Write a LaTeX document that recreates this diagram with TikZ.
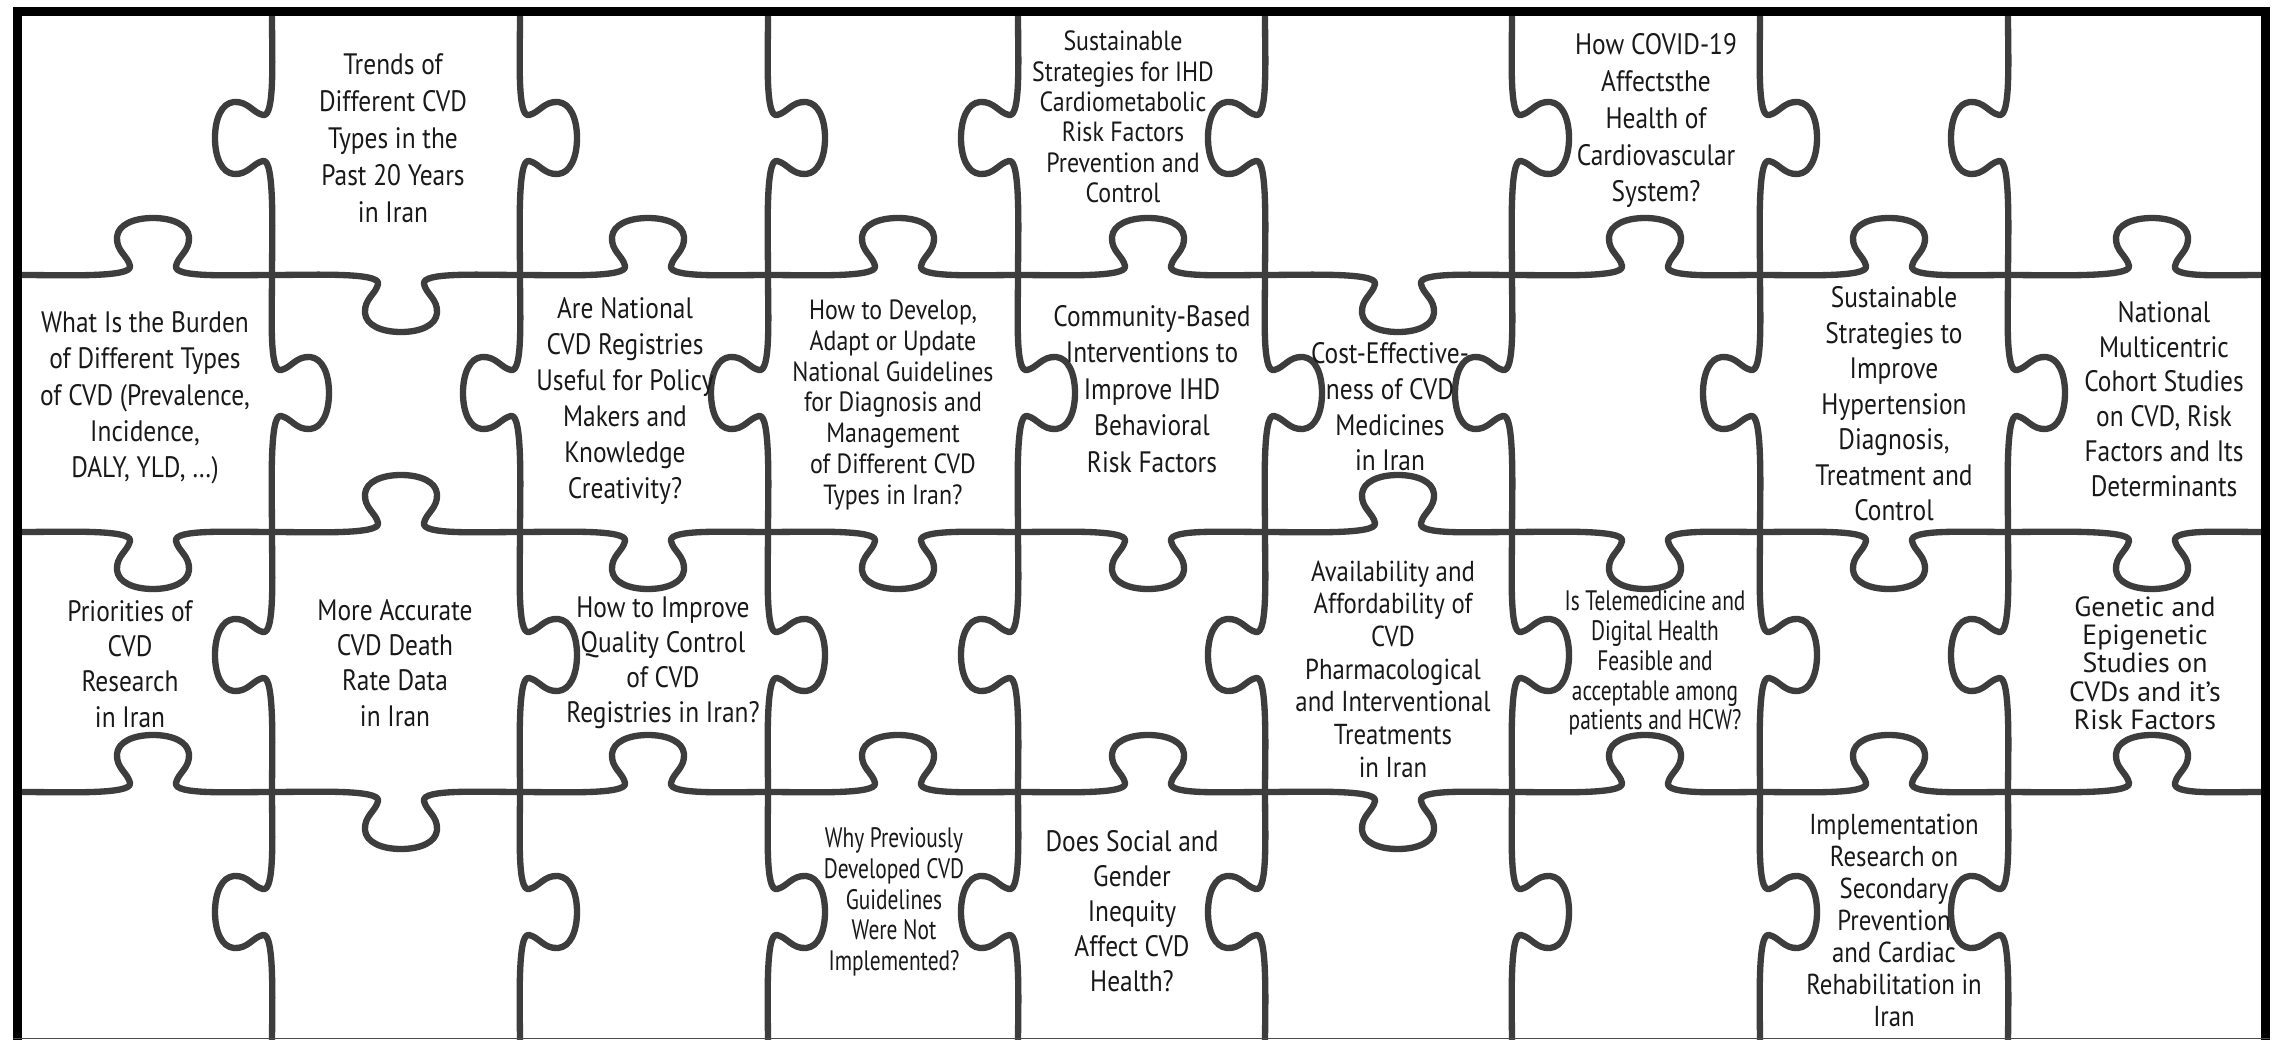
\documentclass[tikz,border=0pt]{standalone}
\usepackage{fontspec}
\setmainfont{PT Sans}[FakeStretch=0.86]
\newfontfamily\tightfont{PT Sans}[FakeStretch=0.76]
\newfontfamily\widefont{PT Sans}
\begin{document}
\begin{tikzpicture}[x=0.01cm,y=-0.01cm,
  puzzle/.style={line width=1.8pt, draw=black!76, line cap=round, line join=round},
  frame/.style={line width=2.6pt, draw=black},
  lbl/.style={align=center, inner sep=0pt, text=black!90},
  hup/.style={yscale=-1},
  hdown/.style={},
  vleft/.style={rotate=-90},
  vright/.style={rotate=-90, yscale=-1},
  % one seam of a piece: straight run, neck, round head, neck, straight run
  pics/knob/.style args={#1/#2}{code={
    \draw[puzzle] (-#1,0) .. controls ({40-#1},0) and (-20,-3) .. (-23,9)
      .. controls (-25,19) and (-37,24) .. (-36,38)
      .. controls (-35,50) and (-20,57) .. (0,57)
      .. controls (20,57) and (35,50) .. (36,38)
      .. controls (37,24) and (25,19) .. (23,9)
      .. controls (20,-3) and ({#2-40},0) .. (#2,0);
  }},
]
\useasboundingbox (0,0) rectangle (2272,1040);
\clip (0,0) rectangle (2272,1040);
\fill[white] (0,0) rectangle (2272,1040);

% ---- horizontal seams, between rows 1 and 2
\pic[hup]   at (153,275)  {knob=131/119};
\pic[hdown] at (401,275)  {knob=129/119};
\pic[hup]   at (648,275)  {knob=128/120};
\pic[hup]   at (898,275)  {knob=130/120};
\pic[hup]   at (1148,275) {knob=130/117};
\pic[hdown] at (1398,275) {knob=133/114};
\pic[hup]   at (1645,275) {knob=133/115};
\pic[hup]   at (1889,275) {knob=129/119};
\pic[hup]   at (2152,275) {knob=144/109};
% ---- between rows 2 and 3
\pic[hdown] at (153,532)  {knob=131/119};
\pic[hup]   at (401,532)  {knob=129/119};
\pic[hdown] at (648,532)  {knob=128/120};
\pic[hdown] at (898,532)  {knob=130/120};
\pic[hdown] at (1148,532) {knob=130/117};
\pic[hup]   at (1398,532) {knob=133/114};
\pic[hdown] at (1645,532) {knob=133/115};
\pic[hdown] at (1889,532) {knob=129/119};
\pic[hdown] at (2152,532) {knob=144/109};
% ---- between rows 3 and 4
\pic[hup]   at (153,792)  {knob=131/119};
\pic[hdown] at (401,792)  {knob=129/119};
\pic[hup]   at (648,792)  {knob=128/120};
\pic[hup]   at (898,792)  {knob=130/120};
\pic[hup]   at (1148,792) {knob=130/117};
\pic[hdown] at (1398,792) {knob=133/114};
\pic[hup]   at (1645,792) {knob=133/115};
\pic[hup]   at (1889,792) {knob=129/119};
\pic[hup]   at (2152,792) {knob=144/109};

% ---- vertical seams, row 1
\pic[vleft]  at (272,138)  {knob=121/137};
\pic[vright] at (520,138)  {knob=121/137};
\pic[vright] at (768,138)  {knob=121/137};
\pic[vleft]  at (1018,138) {knob=121/137};
\pic[vleft]  at (1265,138) {knob=121/137};
\pic[vright] at (1512,138) {knob=121/137};
\pic[vright] at (1760,138) {knob=121/137};
\pic[vleft]  at (2008,138) {knob=121/137};
% ---- row 2
\pic[vright] at (272,393)  {knob=118/139};
\pic[vleft]  at (520,393)  {knob=118/139};
\pic[vleft]  at (768,393)  {knob=118/139};
\pic[vright] at (1018,393) {knob=118/139};
\pic[vright] at (1265,393) {knob=118/139};
\pic[vleft]  at (1512,393) {knob=118/139};
\pic[vleft]  at (1760,393) {knob=118/139};
\pic[vright] at (2008,393) {knob=118/139};
% ---- row 3
\pic[vleft]  at (272,655)  {knob=123/137};
\pic[vright] at (520,655)  {knob=123/137};
\pic[vright] at (768,655)  {knob=123/137};
\pic[vleft]  at (1018,655) {knob=123/137};
\pic[vleft]  at (1265,655) {knob=123/137};
\pic[vright] at (1512,655) {knob=123/137};
\pic[vright] at (1760,655) {knob=123/137};
\pic[vleft]  at (2008,655) {knob=123/137};
% ---- row 4
\pic[vleft]  at (272,912)  {knob=120/134};
\pic[vright] at (520,912)  {knob=120/134};
\pic[vright] at (768,912)  {knob=120/134};
\pic[vleft]  at (1018,912) {knob=120/134};
\pic[vleft]  at (1265,912) {knob=120/134};
\pic[vright] at (1512,912) {knob=120/134};
\pic[vright] at (1760,912) {knob=120/134};
\pic[vleft]  at (2008,912) {knob=120/134};

% ---- frame
\draw[frame] (17.5,1050) -- (17.5,11.5) -- (2265.5,11.5) -- (2265.5,1050);
\draw[line width=0.5pt, draw=black!70] (13,1038.5) -- (2270,1038.5);

% ---- questions on the pieces
\node[lbl, font=\fontsize{8.4}{10.5}\selectfont] (trends) at (393,138)
  {Trends of\\Different CVD\\Types in the\\Past 20 Years\\in Iran};
\node[lbl, font=\fontsize{7.9}{8.65}\selectfont] (ihdrisk) at (1123,117)
  {Sustainable\\Strategies for IHD\\Cardiometabolic\\Risk Factors\\Prevention and\\Control};
\node[lbl, font=\fontsize{8.4}{10.45}\selectfont] (covid) at (1656,121)
  {How COVID-19\\Affectsthe\\Health of\\Cardiovascular\\System?};
\node[lbl, font=\fontsize{8.4}{10.3}\selectfont] (burden) at (145,398)
  {What Is the Burden\\of Different Types\\of CVD (Prevalence,\\Incidence,\\DALY, YLD, …)};
\node[lbl, font=\fontsize{8.4}{10.2}\selectfont] (registries) at (625,401)
  {Are National\\CVD Registries\\Useful for Policy\\Makers and\\Knowledge\\Creativity?};
\node[lbl, font=\fontsize{7.9}{8.8}\selectfont] (guidelines) at (893,405)
  {How to Develop,\\Adapt or Update\\National Guidelines\\for Diagnosis and\\Management\\of Different CVD\\Types in Iran?};
\node[lbl, font=\fontsize{8.4}{10.4}\selectfont] (community) at (1152,389)
  {Community-Based\\Interventions to\\Improve IHD\\Behavioral\\Risk Factors};
\node[lbl, font=\fontsize{8.4}{10.15}\selectfont] (costeff) at (1390,407)
  {Cost-Effective-\\ness of CVD\\Medicines\\in Iran};
\node[lbl, font=\fontsize{8.4}{10.1}\selectfont] (htn) at (1894,404)
  {Sustainable\\Strategies to\\Improve\\Hypertension\\Diagnosis,\\Treatment and\\Control};
\node[lbl, font=\fontsize{8.4}{9.9}\selectfont] (cohort) at (2164,399)
  {National\\Multicentric\\Cohort Studies\\on CVD, Risk\\Factors and Its\\Determinants};
\node[lbl, font=\fontsize{8.4}{10}\selectfont] (priorities) at (130,664)
  {Priorities of\\CVD\\Research\\in Iran};
\node[lbl, font=\fontsize{8.4}{10}\selectfont] (death) at (395,663)
  {More Accurate\\CVD Death\\Rate Data\\in Iran};
\node[lbl, font=\fontsize{8.4}{10}\selectfont] (quality) at (663,663)
  {How to Improve\\Quality Control\\of CVD\\Registries in Iran?};
\node[lbl, font=\fontsize{8.2}{9.3}\selectfont] (access) at (1393,669)
  {Availability and\\Affordability of\\CVD\\Pharmacological\\and Interventional\\Treatments\\in Iran};
\node[lbl, font=\tightfont\fontsize{8.0}{8.5}\selectfont] (telemed) at (1655,663)
  {Is Telemedicine and\\Digital Health\\Feasible and\\acceptable among\\patients and HCW?};
\node[lbl, font=\widefont\fontsize{7.9}{8.05}\selectfont] (genetic) at (2145,663)
  {Genetic and\\Epigenetic\\Studies on\\CVDs and it’s\\Risk Factors};
\node[lbl, font=\tightfont\fontsize{8.0}{8.75}\selectfont] (previous) at (894,902)
  {Why Previously\\Developed CVD\\Guidelines\\Were Not\\Implemented?};
\node[lbl, font=\fontsize{8.4}{10}\selectfont] (inequity) at (1132,911)
  {Does Social and\\Gender\\Inequity\\Affect CVD\\Health?};
\node[lbl, font=\fontsize{8.2}{9.1}\selectfont] (rehab) at (1894,920)
  {Implementation\\Research on\\Secondary\\Prevention\\and Cardiac\\Rehabilitation in\\Iran};
\end{tikzpicture}
\end{document}
